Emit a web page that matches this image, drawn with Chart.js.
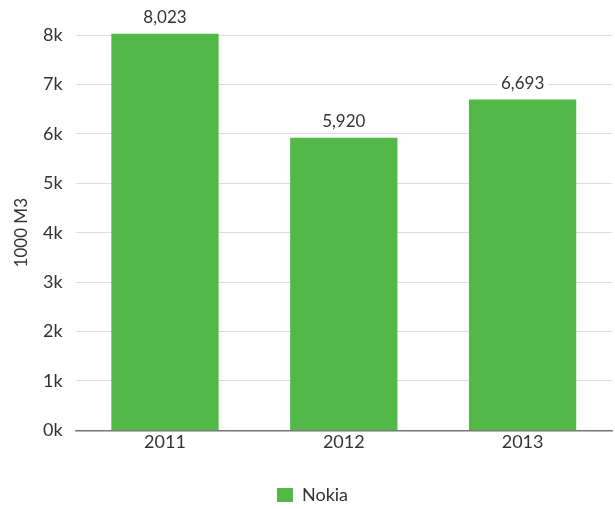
<!DOCTYPE html>
<html><head><meta charset="utf-8">
<script src="https://cdn.jsdelivr.net/npm/chart.js@4"></script>
<style>html,body{margin:0;padding:0;background:#fff;}#wrap{width:615px;height:509px;}</style>
</head><body><div id="wrap"><canvas id="c" width="615" height="509"></canvas></div>
<script>
const categories = ["2011", "2012", "2013"];
const nokiaValues = [8023, 5920, 6693];
const seriesName = "Nokia";
const yTitle = "1000 M3";

const FONT = "Lato, 'Noto Sans', sans-serif";
const labelPlugin = {
  id: 'barLabels',
  afterDatasetsDraw(chart) {
    const ctx = chart.ctx;
    const meta = chart.getDatasetMeta(0);
    ctx.save();
    ctx.font = "17px " + FONT;
    ctx.textAlign = 'center';
    ctx.textBaseline = 'middle';
    meta.data.forEach((bar, i) => {
      const txt = nokiaValues[i].toLocaleString('en-US');
      const w = ctx.measureText(txt).width;
      const y = bar.y - 16;
      ctx.fillStyle = '#fff';
      ctx.fillRect(bar.x - w/2 - 4, y - 9, w + 8, 18);
      ctx.fillStyle = '#333';
      ctx.fillText(txt, bar.x, y);
    });
    ctx.restore();
  }
};

new Chart(document.getElementById('c'), {
  type: 'bar',
  data: {
    labels: categories,
    datasets: [{
      label: seriesName,
      data: nokiaValues,
      backgroundColor: '#52b848',
      borderWidth: 0,
      barPercentage: 0.6,
      categoryPercentage: 1,
      clip: false
    }]
  },
  options: {
    responsive: false,
    animation: false,
    layout: { padding: { top: 35, right: 3, left: 13, bottom: -5 } },
    plugins: {
      legend: {
        position: 'bottom',
        labels: { font: { family: FONT, size: 18 }, color: '#333', boxWidth: 16, boxHeight: 14, padding: 32 }
      },
      tooltip: { enabled: false }
    },
    scales: {
      x: {
        grid: { display: false, drawTicks: false },
        border: { color: '#777', width: 1.5 },
        ticks: { font: { family: FONT, size: 18 }, color: '#333', padding: 1 }
      },
      y: {
        min: 0, max: 8000,
        grid: { color: '#dddddd', drawTicks: false },
        border: { display: false },
        ticks: { stepSize: 1000, font: { family: FONT, size: 18 }, color: '#333', padding: 13,
          callback: v => (v/1000) + 'k' },
        title: { display: true, text: yTitle, font: { family: FONT, size: 17, lineHeight: 1 }, color: '#333', padding: 0 }
      }
    }
  },
  plugins: [labelPlugin]
});
</script></body></html>
